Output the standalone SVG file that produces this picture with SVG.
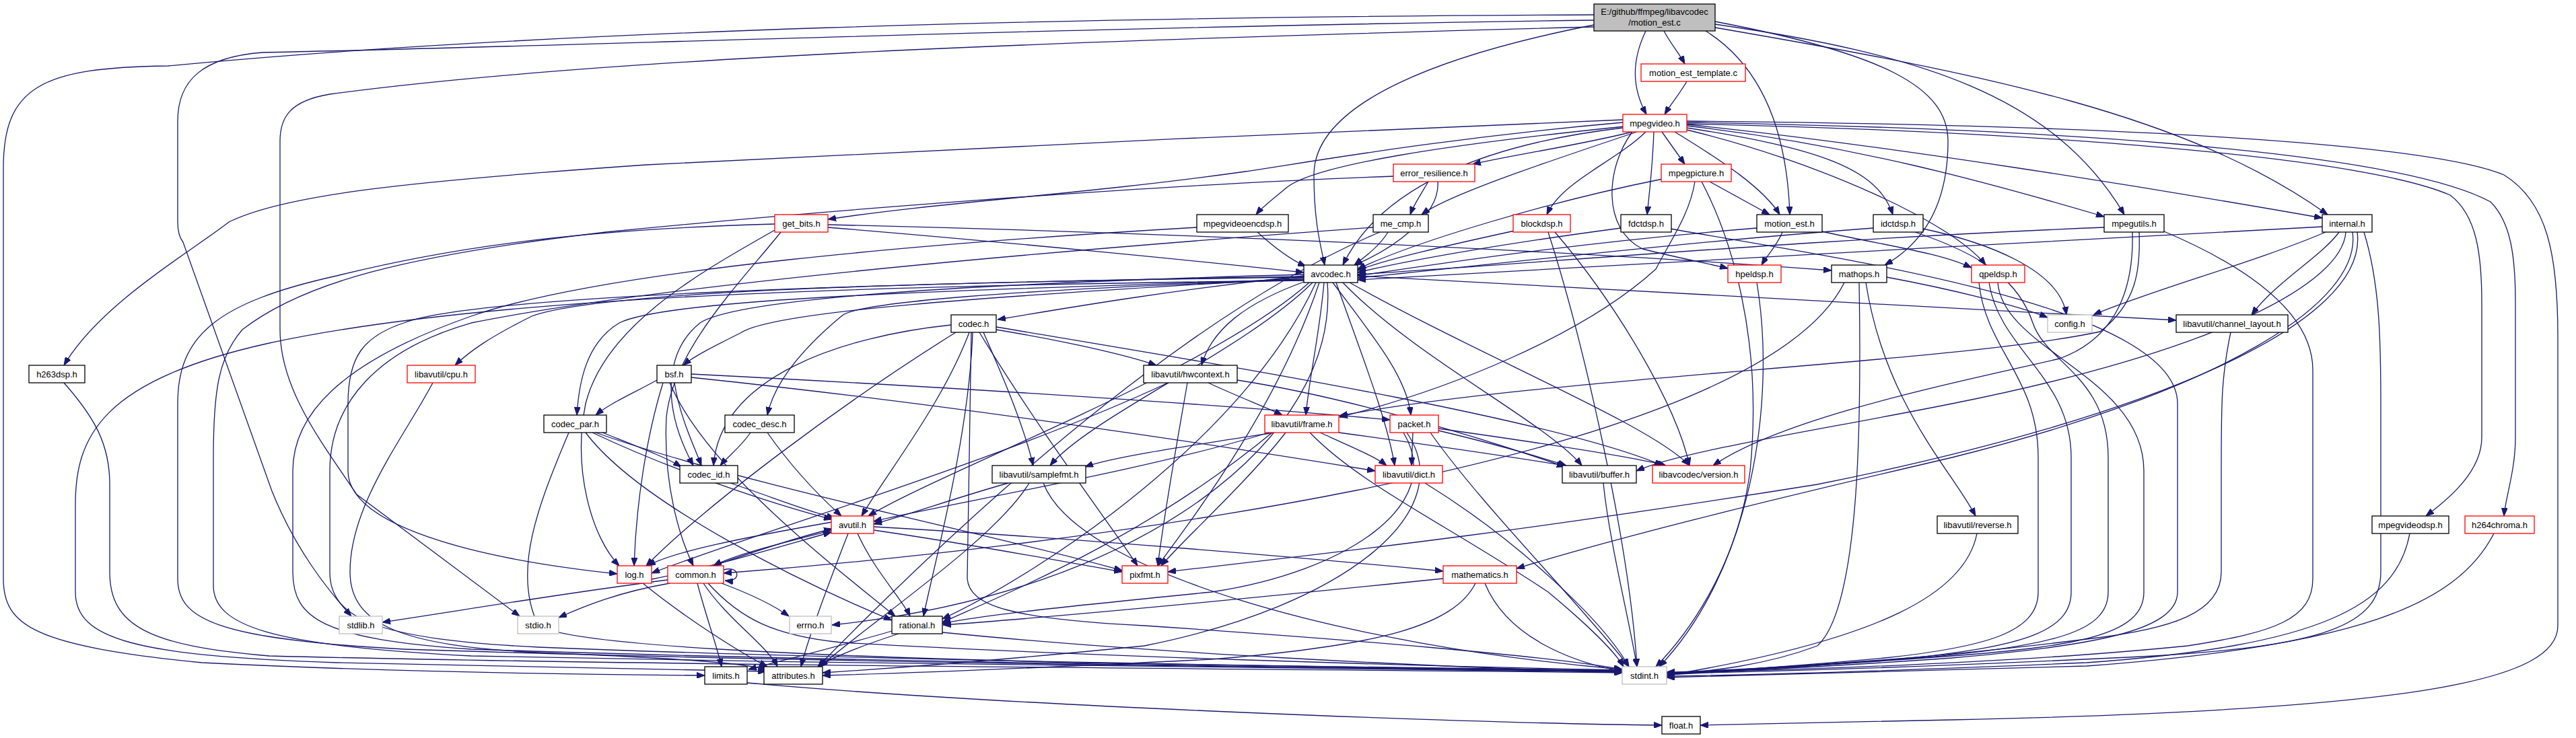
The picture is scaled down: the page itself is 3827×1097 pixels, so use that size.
<svg xmlns="http://www.w3.org/2000/svg" width="3827" height="1097" viewBox="0 0 3827 1097">
<style>
.node rect{fill:#ffffff;stroke:#000000;stroke-width:1.3}
.node.r rect{stroke:#ff0000}
.node.g rect{stroke:#bfbfbf}
.node.root rect{fill:#bfbfbf}
.node text{font-family:"Liberation Sans",Arial,sans-serif;font-size:13px;fill:#000;text-anchor:middle}
#edges path{fill:none;stroke:#191970;stroke-width:1.3;marker-end:url(#a)}
</style>
<defs>
<marker id="a" markerUnits="userSpaceOnUse" markerWidth="12" markerHeight="9" refX="12" refY="4.5" orient="auto">
<path d="M0,0 L12,4.5 L0,9 z" fill="#191970" stroke="#191970"/>
</marker>
</defs>
<rect x="0" y="0" width="3827" height="1097" fill="#ffffff"/>
<g id="edges">
<path d="M2472,46 C2482,65 2495,80 2503,95"/>
<path d="M2445,46 C2424,90 2424,130 2446,170"/>
<path d="M2368,37 C2150,80 1952,150 1952,260 C1952,330 1962,365 1968,394"/>
<path d="M2534,46 C2620,100 2655,200 2659,319"/>
<path d="M2548,32 C2800,80 2894,130 2894,210 C2894,300 2860,360 2800,394"/>
<path d="M2548,36 C2850,80 3050,140 3156,319"/>
<path d="M2548,41 C2950,110 3250,170 3458,319"/>
<path d="M2368,22 C1600,25 800,45 250,98 C60,100 5,130 5,250 L5,860 C5,930 50,960 300,985 C600,1000 900,1003 1047,1004"/>
<path d="M2368,30 C1600,40 800,70 390,78 C300,85 264,120 264,180 L264,330 C264,345 268,355 272,360 L404,730 C440,820 490,880 522,916"/>
<path d="M2368,40 C1600,60 900,85 490,140 C430,150 416,175 416,210 L416,490 C416,580 480,660 530,735 L772,916"/>
<path d="M2506,121 C2495,140 2482,155 2473,170"/>
<path d="M2411,178 C2000,195 1300,225 960,245 C600,270 420,290 340,330 C290,370 150,450 95,543"/>
<path d="M2411,182 C2150,205 1950,240 1850,255 C1600,290 1400,300 1230,326"/>
<path d="M2413,188 C2150,215 1950,245 1910,280 C1890,297 1875,308 1866,319"/>
<path d="M2425,196 C2350,215 2250,230 2188,244"/>
<path d="M2432,196 C2300,240 2150,290 2112,319"/>
<path d="M2445,196 C2400,240 2320,270 2298,319"/>
<path d="M2457,196 C2455,250 2450,290 2447,319"/>
<path d="M2469,196 L2503,244"/>
<path d="M2488,196 C2560,240 2620,280 2644,319"/>
<path d="M2506,190 C2700,220 2790,250 2812,319"/>
<path d="M2506,187 C2750,215 2950,270 3126,322"/>
<path d="M2506,185 C2800,215 3200,280 3450,324"/>
<path d="M2425,196 C2385,250 2380,340 2440,370 C2500,385 2540,392 2567,399"/>
<path d="M2506,193 C2700,240 2900,330 2950,394"/>
<path d="M2506,184 C3000,195 3500,230 3640,290 C3680,320 3687,380 3687,450 L3687,650 C3687,700 3640,740 3604,767"/>
<path d="M2506,182 C3000,190 3550,220 3700,300 C3730,330 3737,380 3737,450 L3737,650 C3737,700 3722,740 3720,767"/>
<path d="M2506,180 C3100,185 3600,210 3720,260 C3785,300 3800,380 3800,500 L3800,930 C3800,1010 3600,1055 2900,1070 C2700,1074 2580,1077 2526,1078"/>
<path d="M2411,190 C2200,215 2050,280 1995,394"/>
<path d="M2122,270 C2110,290 2100,305 2095,319"/>
<path d="M2136,270 C2140,320 2070,370 2012,394"/>
<path d="M2070,262 C1700,275 1200,315 900,345 C600,380 450,420 360,490 C325,530 317,580 317,680 L317,870 C317,930 400,960 700,975 C1300,988 2000,994 2410,999"/>
<path d="M2540,270 L2629,319"/>
<path d="M2470,266 C2300,300 2100,360 2017,400"/>
<path d="M2518,270 C2510,320 2480,360 2460,400 C2350,500 2150,580 1990,620"/>
<path d="M2528,270 C2570,350 2620,500 2600,700 C2580,850 2500,950 2460,991"/>
<path d="M1230,338 C1500,360 1800,390 1937,405"/>
<path d="M1230,334 C1700,345 2300,370 2721,402"/>
<path d="M1151,342 C1050,400 900,480 870,600 C850,700 880,800 920,841"/>
<path d="M1160,345 C1100,420 1000,520 990,620 C985,720 1010,800 1030,841"/>
<path d="M1151,333 C900,340 700,360 500,410 C320,450 264,500 264,600 L264,860 C264,920 320,950 600,965 C1200,985 2000,993 2410,998"/>
<path d="M1868,345 C1890,365 1915,385 1940,396"/>
<path d="M1778,338 C1400,360 900,400 700,470 C500,540 435,620 435,700 L435,850 C435,920 480,950 700,965 C1300,985 2000,993 2410,997"/>
<path d="M2062,345 C2050,365 2030,380 2012,394"/>
<path d="M2040,338 C1600,370 1000,420 700,480 C560,520 490,600 490,700 L490,850 C490,920 560,950 800,962 C1300,982 2000,992 2410,996"/>
<path d="M2050,345 C1800,450 1500,700 1215,991"/>
<path d="M2250,343 C2150,365 2060,385 2017,402"/>
<path d="M2310,345 C2400,450 2490,600 2510,692"/>
<path d="M2300,345 C2350,500 2420,800 2432,991"/>
<path d="M2408,339 C2250,360 2100,385 2017,405"/>
<path d="M2482,340 C2700,380 3235,450 3235,600 L3235,880 C3235,940 3100,960 2900,978 C2700,992 2550,999 2476,1000"/>
<path d="M2610,339 C2350,360 2150,390 2017,410"/>
<path d="M2648,345 C2640,365 2625,380 2617,394"/>
<path d="M2707,344 C2800,365 2880,375 2929,398"/>
<path d="M2783,339 C2500,360 2200,395 2017,413"/>
<path d="M2857,340 C2950,360 3060,400 3070,468"/>
<path d="M2845,345 C2950,380 3000,420 3020,480 C3040,540 3132,560 3132,680 L3132,880 C3132,940 3050,960 2850,978 C2650,992 2540,998 2476,999"/>
<path d="M3126,338 C2700,355 2300,390 2017,408"/>
<path d="M3178,345 C3180,400 3175,450 3120,493 C2900,540 2300,560 1990,618"/>
<path d="M3168,345 C3170,420 3150,500 3060,533 C2900,570 2650,620 2545,692"/>
<path d="M3215,344 C3300,380 3436,450 3436,550 L3436,860 C3436,920 3380,940 3250,960 C3000,985 2700,995 2476,1000"/>
<path d="M3450,337 C3000,360 2400,395 2017,416"/>
<path d="M3455,345 C3350,390 3200,430 3110,468"/>
<path d="M3475,345 C3450,380 3380,420 3345,468"/>
<path d="M3485,345 C3480,420 3300,520 2900,600 C2700,640 2500,670 2431,700"/>
<path d="M3495,345 C3510,450 3300,580 2900,680 C2600,750 2400,800 2253,845"/>
<path d="M3502,345 C3520,480 3200,620 2700,720 C2200,800 1900,830 1735,850"/>
<path d="M3512,345 C3535,420 3537,500 3537,600 L3537,850 C3537,930 3450,960 3200,975 C2900,990 2650,998 2476,1001"/>
<path d="M2610,420 C2640,600 2600,850 2465,991"/>
<path d="M2803,412 C2900,430 3000,455 3042,472"/>
<path d="M2772,420 C2800,600 2900,700 2935,767"/>
<path d="M2762,420 C2765,600 2766,900 2700,960 C2620,990 2540,998 2476,1002"/>
<path d="M2740,420 C2600,700 1500,820 1075,852"/>
<path d="M2968,420 C2975,520 3185,560 3185,700 L3185,880 C3185,940 3100,960 2900,975 C2700,990 2550,998 2476,1002"/>
<path d="M2955,420 C2970,520 3077,560 3077,680 L3077,880 C3077,940 3000,960 2850,977 C2650,992 2540,998 2476,1001"/>
<path d="M2940,420 C2950,520 3028,560 3028,680 L3028,880 C3028,940 2950,962 2800,978 C2650,992 2540,998 2476,1003"/>
<path d="M1480,490 C1600,510 1680,530 1718,543"/>
<path d="M1461,494 C1490,560 1520,630 1535,692"/>
<path d="M1413,483 C1250,500 1070,560 1060,692"/>
<path d="M1480,486 C1800,540 2300,620 2470,692"/>
<path d="M1440,494 C1400,600 1320,700 1280,767"/>
<path d="M1420,494 C1250,600 1050,750 960,841"/>
<path d="M1455,494 C1550,650 1650,780 1690,841"/>
<path d="M1445,494 C1440,650 1385,850 1372,916"/>
<path d="M1443,494 L1437,860 C1440,900 1500,920 1700,930 C2000,950 2300,975 2410,995"/>
<path d="M976,565 C940,585 905,600 885,617"/>
<path d="M1002,569 C1010,620 1030,660 1042,692"/>
<path d="M1027,561 C1400,600 1800,660 2043,700"/>
<path d="M1027,556 C1400,575 1800,600 2065,624"/>
<path d="M985,569 C960,650 945,750 942,841"/>
<path d="M995,569 C1050,700 1250,850 1330,916"/>
<path d="M1795,569 C1840,590 1880,605 1905,617"/>
<path d="M1838,565 C2000,590 2200,650 2325,694"/>
<path d="M1735,569 C1500,680 1100,800 968,852"/>
<path d="M1764,569 C1750,650 1730,760 1720,841"/>
<path d="M895,643 C950,665 990,680 1012,694"/>
<path d="M880,643 C1000,700 1150,750 1236,772"/>
<path d="M870,643 C950,750 1200,870 1325,922"/>
<path d="M885,643 C1100,720 1500,800 1667,848"/>
<path d="M845,643 C800,750 760,850 800,930 C850,960 1200,975 1600,985 C2000,992 2300,996 2410,998"/>
<path d="M1115,643 C1100,665 1080,680 1070,692"/>
<path d="M1140,643 C1180,700 1220,740 1250,767"/>
<path d="M1893,643 C1750,665 1650,680 1612,694"/>
<path d="M1961,643 C2010,665 2045,680 2060,692"/>
<path d="M1989,643 C2150,665 2250,680 2325,692"/>
<path d="M1885,643 C1700,700 1400,750 1298,775"/>
<path d="M1910,643 C1850,720 1760,800 1725,841"/>
<path d="M1890,643 C1700,800 1500,880 1400,925"/>
<path d="M1946,643 C2020,720 2150,780 2300,880 C2360,930 2400,970 2412,991"/>
<path d="M2099,643 L2097,692"/>
<path d="M2137,640 C2220,660 2290,680 2327,692"/>
<path d="M2137,637 C2300,660 2430,680 2475,692"/>
<path d="M2085,643 C2150,750 2000,850 1800,880 C1600,900 1450,915 1400,927"/>
<path d="M2090,643 C2170,760 2000,900 1700,960 C1450,985 1300,995 1222,1000"/>
<path d="M2125,643 C2200,750 2350,900 2420,991"/>
<path d="M1085,718 C1150,740 1200,760 1240,770"/>
<path d="M1498,718 C1420,740 1350,765 1298,779"/>
<path d="M1529,718 C1480,800 1300,920 1218,991"/>
<path d="M1550,718 C1600,850 2000,960 2410,995"/>
<path d="M2117,718 C2250,800 2380,920 2420,991"/>
<path d="M2382,718 C2390,800 2420,920 2432,991"/>
<path d="M3314,494 C3300,560 3300,600 3300,700 L3300,850 C3300,910 3230,935 3100,950 C2900,975 2650,995 2476,1003"/>
<path d="M2937,793 C2920,880 2800,950 2476,1004"/>
<path d="M3580,793 C3560,900 3450,960 3100,985 C2800,998 2600,1003 2476,1005"/>
<path d="M3705,793 C3650,900 3500,960 3100,990 C2800,1000 2600,1005 2476,1007"/>
<path d="M95,569 C140,620 163,660 163,720 L163,850 C163,930 220,960 400,975 C1000,990 2000,995 2410,1000"/>
<path d="M643,569 C600,650 520,750 520,850 C520,930 600,960 800,970 C1000,978 1100,985 1140,995"/>
<path d="M1237,788 C1150,810 1090,825 1060,841"/>
<path d="M1236,776 C1100,800 1000,820 962,841"/>
<path d="M1274,793 C1300,850 1340,890 1352,916"/>
<path d="M1298,783 C1600,800 1950,830 2144,849"/>
<path d="M1298,788 C1450,810 1580,835 1667,850"/>
<path d="M1260,793 C1230,870 1200,950 1190,991"/>
<path d="M968,861 C1050,845 1150,815 1235,791"/>
<path d="M955,867 C1020,920 1100,970 1140,991"/>
<path d="M1060,841 C1120,820 1180,800 1236,786"/>
<path d="M1075,847 C1100,840 1102,866 1077,863"/>
<path d="M1072,867 C1120,885 1150,900 1172,916"/>
<path d="M1036,867 C1050,920 1065,960 1072,991"/>
<path d="M1045,867 C1080,920 1140,960 1155,991"/>
<path d="M1052,867 C1100,920 1150,945 1250,955 C1600,975 2100,990 2410,996"/>
<path d="M992,862 C850,880 700,905 568,925"/>
<path d="M995,867 C920,880 870,900 830,918"/>
<path d="M2144,860 C1900,885 1600,915 1401,929"/>
<path d="M2192,867 C2160,930 2050,960 1800,980 C1500,995 1300,1002 1222,1004"/>
<path d="M2206,867 C2240,950 2340,985 2410,998"/>
<path d="M1325,938 C1250,960 1150,985 1112,995"/>
<path d="M1335,942 C1280,960 1240,975 1215,991"/>
<path d="M1400,940 C1700,970 2100,990 2410,1000"/>
<path d="M1110,1015 C1500,1050 2200,1075 2469,1078"/>
<path d="M1937,410 C1750,430 1600,455 1482,475"/>
<path d="M1937,413 C1500,440 1150,460 1100,495 C1060,515 1030,530 1015,543"/>
<path d="M1937,415 C1500,430 1000,440 920,480 C870,510 860,570 857,617"/>
<path d="M1937,416 C1500,430 1270,450 1250,470 C1190,520 1150,570 1140,617"/>
<path d="M1937,408 C1500,420 1100,440 1040,480 C990,520 980,600 1030,692"/>
<path d="M1937,411 C1400,420 900,430 790,470 C730,500 700,520 676,543"/>
<path d="M2017,410 C2500,440 2900,460 3233,476"/>
<path d="M1967,420 C1960,500 1945,560 1940,617"/>
<path d="M1980,420 C2040,500 2090,560 2096,617"/>
<path d="M1950,420 C1850,520 1620,620 1560,692"/>
<path d="M1985,420 C2020,520 2060,620 2072,692"/>
<path d="M1995,420 C2100,530 2300,630 2350,692"/>
<path d="M2005,420 C2200,530 2450,630 2510,692"/>
<path d="M1940,418 C1850,450 1800,490 1785,543"/>
<path d="M1945,420 C1800,550 1400,700 1290,767"/>
<path d="M1937,412 C1300,420 700,440 600,480 C540,500 517,530 517,600 L517,700 C517,780 700,830 917,853"/>
<path d="M1960,420 C1900,600 1780,760 1720,841"/>
<path d="M1955,420 C1850,650 1550,850 1400,920"/>
<path d="M1972,420 C1990,650 1700,880 1236,929"/>
<path d="M1937,417 C1200,425 700,445 400,510 C150,565 112,650 112,750 L112,880 C112,950 200,975 500,985 C800,992 1000,996 1138,998"/>
</g>
<g id="n_root" class="node root"><rect x="2368" y="6" width="180" height="40"/><text x="2458" y="22">E:/github/ffmpeg/libavcodec</text><text x="2458" y="38">/motion_est.c</text></g>
<g id="n_tmpl" class="node r"><rect x="2438" y="95" width="155" height="26"/><text x="2515.5" y="112.5">motion_est_template.c</text></g>
<g id="n_mpegvideo" class="node r"><rect x="2411" y="170" width="95" height="26"/><text x="2458.5" y="187.5">mpegvideo.h</text></g>
<g id="n_er" class="node r"><rect x="2070" y="244" width="121" height="26"/><text x="2130.5" y="261.5">error_resilience.h</text></g>
<g id="n_mpegpicture" class="node r"><rect x="2468" y="244" width="104" height="26"/><text x="2520" y="261.5">mpegpicture.h</text></g>
<g id="n_getbits" class="node r"><rect x="1151" y="319" width="79" height="26"/><text x="1190.5" y="336.5">get_bits.h</text></g>
<g id="n_mved" class="node"><rect x="1778" y="319" width="136" height="26"/><text x="1846" y="336.5">mpegvideoencdsp.h</text></g>
<g id="n_mecmp" class="node"><rect x="2040" y="319" width="82" height="26"/><text x="2081" y="336.5">me_cmp.h</text></g>
<g id="n_blockdsp" class="node r"><rect x="2248" y="319" width="85" height="26"/><text x="2290.5" y="336.5">blockdsp.h</text></g>
<g id="n_fdctdsp" class="node"><rect x="2408" y="319" width="75" height="26"/><text x="2445.5" y="336.5">fdctdsp.h</text></g>
<g id="n_motionest" class="node"><rect x="2610" y="319" width="97" height="26"/><text x="2658.5" y="336.5">motion_est.h</text></g>
<g id="n_idctdsp" class="node"><rect x="2783" y="319" width="74" height="26"/><text x="2820" y="336.5">idctdsp.h</text></g>
<g id="n_mpegutils" class="node"><rect x="3126" y="319" width="89" height="26"/><text x="3170.5" y="336.5">mpegutils.h</text></g>
<g id="n_internal" class="node"><rect x="3450" y="319" width="74" height="26"/><text x="3487" y="336.5">internal.h</text></g>
<g id="n_avcodec" class="node"><rect x="1937" y="394" width="80" height="26"/><text x="1977" y="411.5">avcodec.h</text></g>
<g id="n_hpeldsp" class="node r"><rect x="2567" y="394" width="79" height="26"/><text x="2606.5" y="411.5">hpeldsp.h</text></g>
<g id="n_mathops" class="node"><rect x="2721" y="394" width="82" height="26"/><text x="2762" y="411.5">mathops.h</text></g>
<g id="n_qpeldsp" class="node r"><rect x="2929" y="394" width="79" height="26"/><text x="2968.5" y="411.5">qpeldsp.h</text></g>
<g id="n_codec" class="node"><rect x="1413" y="468" width="67" height="26"/><text x="1446.5" y="485.5">codec.h</text></g>
<g id="n_config" class="node g"><rect x="3042" y="468" width="66" height="26"/><text x="3075" y="485.5">config.h</text></g>
<g id="n_chlayout" class="node"><rect x="3233" y="468" width="166" height="26"/><text x="3316" y="485.5">libavutil/channel_layout.h</text></g>
<g id="n_h263dsp" class="node"><rect x="43" y="543" width="83" height="26"/><text x="84.5" y="560.5">h263dsp.h</text></g>
<g id="n_cpu" class="node r"><rect x="605" y="543" width="101" height="26"/><text x="655.5" y="560.5">libavutil/cpu.h</text></g>
<g id="n_bsf" class="node"><rect x="976" y="543" width="51" height="26"/><text x="1001.5" y="560.5">bsf.h</text></g>
<g id="n_hwcontext" class="node"><rect x="1699" y="543" width="139" height="26"/><text x="1768.5" y="560.5">libavutil/hwcontext.h</text></g>
<g id="n_codecpar" class="node"><rect x="808" y="617" width="93" height="26"/><text x="854.5" y="634.5">codec_par.h</text></g>
<g id="n_codecdesc" class="node"><rect x="1077" y="617" width="103" height="26"/><text x="1128.5" y="634.5">codec_desc.h</text></g>
<g id="n_frame" class="node r"><rect x="1879" y="617" width="110" height="26"/><text x="1934" y="634.5">libavutil/frame.h</text></g>
<g id="n_packet" class="node r"><rect x="2065" y="617" width="72" height="26"/><text x="2101" y="634.5">packet.h</text></g>
<g id="n_codecid" class="node"><rect x="1010" y="692" width="86" height="26"/><text x="1053" y="709.5">codec_id.h</text></g>
<g id="n_samplefmt" class="node"><rect x="1474" y="692" width="139" height="26"/><text x="1543.5" y="709.5">libavutil/samplefmt.h</text></g>
<g id="n_dict" class="node r"><rect x="2043" y="692" width="100" height="26"/><text x="2093" y="709.5">libavutil/dict.h</text></g>
<g id="n_buffer" class="node"><rect x="2321" y="692" width="110" height="26"/><text x="2376" y="709.5">libavutil/buffer.h</text></g>
<g id="n_version" class="node r"><rect x="2455" y="692" width="137" height="26"/><text x="2523.5" y="709.5">libavcodec/version.h</text></g>
<g id="n_avutil" class="node r"><rect x="1235" y="767" width="63" height="26"/><text x="1266.5" y="784.5">avutil.h</text></g>
<g id="n_reverse" class="node"><rect x="2878" y="767" width="120" height="26"/><text x="2938" y="784.5">libavutil/reverse.h</text></g>
<g id="n_mpegvideodsp" class="node"><rect x="3524" y="767" width="114" height="26"/><text x="3581" y="784.5">mpegvideodsp.h</text></g>
<g id="n_h264chroma" class="node r"><rect x="3662" y="767" width="103" height="26"/><text x="3713.5" y="784.5">h264chroma.h</text></g>
<g id="n_log" class="node r"><rect x="917" y="841" width="51" height="26"/><text x="942.5" y="858.5">log.h</text></g>
<g id="n_common" class="node r"><rect x="992" y="841" width="83" height="26"/><text x="1033.5" y="858.5">common.h</text></g>
<g id="n_pixfmt" class="node r"><rect x="1667" y="841" width="68" height="26"/><text x="1701" y="858.5">pixfmt.h</text></g>
<g id="n_mathematics" class="node r"><rect x="2144" y="841" width="109" height="26"/><text x="2198.5" y="858.5">mathematics.h</text></g>
<g id="n_stdlib" class="node g"><rect x="504" y="916" width="64" height="26"/><text x="536" y="933.5">stdlib.h</text></g>
<g id="n_stdio" class="node g"><rect x="769" y="916" width="61" height="26"/><text x="799.5" y="933.5">stdio.h</text></g>
<g id="n_errno" class="node g"><rect x="1173" y="916" width="62" height="26"/><text x="1204" y="933.5">errno.h</text></g>
<g id="n_rational" class="node"><rect x="1325" y="916" width="75" height="26"/><text x="1362.5" y="933.5">rational.h</text></g>
<g id="n_limits" class="node"><rect x="1047" y="991" width="63" height="26"/><text x="1078.5" y="1008.5">limits.h</text></g>
<g id="n_attributes" class="node"><rect x="1135" y="991" width="87" height="26"/><text x="1178.5" y="1008.5">attributes.h</text></g>
<g id="n_stdint" class="node g"><rect x="2410" y="991" width="66" height="26"/><text x="2443" y="1008.5">stdint.h</text></g>
<g id="n_float" class="node"><rect x="2469" y="1065" width="57" height="26"/><text x="2497.5" y="1082.5">float.h</text></g>
</svg>
